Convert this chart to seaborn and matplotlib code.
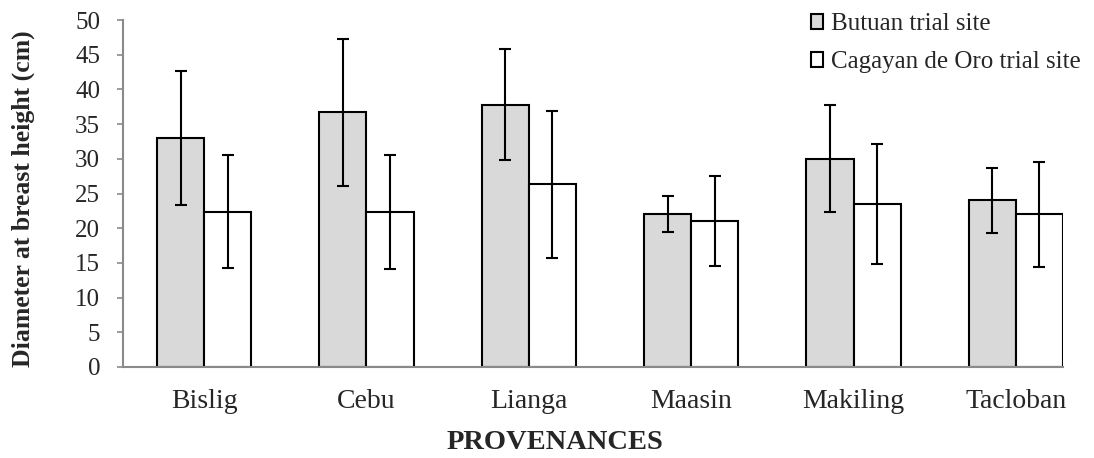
import numpy as np
import pandas as pd
import matplotlib
matplotlib.use("Agg")
import matplotlib.pyplot as plt
import seaborn as sns

provenances = ["Bislig", "Cebu", "Lianga", "Maasin", "Makiling", "Tacloban"]
sites = ["Butuan trial site", "Cagayan de Oro trial site"]
butuan_mean = [33.0, 36.7, 37.8, 22.0, 30.0, 24.0]
butuan_err = [9.6, 10.6, 8.0, 2.6, 7.7, 4.7]
cdo_mean = [22.4, 22.3, 26.3, 21.0, 23.5, 22.0]
cdo_err = [8.1, 8.2, 10.6, 6.5, 8.6, 7.6]

df = pd.DataFrame({
    "provenance": provenances * 2,
    "site": [sites[0]] * 6 + [sites[1]] * 6,
    "dbh": butuan_mean + cdo_mean,
    "err": butuan_err + cdo_err,
})

sns.set_style("white")
plt.rcParams["font.family"] = ["Liberation Serif", "DejaVu Serif"]

bar_w = 0.58
fig = plt.figure(figsize=(10.94, 4.58), dpi=100)
ax = fig.add_axes([0.1124, 0.1987, 0.8592, 0.7576])

sns.barplot(data=df, x="provenance", y="dbh", hue="site", order=provenances,
            hue_order=sites, palette=["#d9d9d9", "#ffffff"], edgecolor="black",
            linewidth=1.5, width=bar_w, errorbar=None, ax=ax, saturation=1)

# error bars on top of seaborn's bars
for cont, s in zip(ax.containers, sites):
    sub = df[df["site"] == s].set_index("provenance").loc[provenances]
    xs = [p.get_x() + p.get_width() / 2 for p in cont.patches]
    ax.errorbar(xs, sub["dbh"], yerr=sub["err"], fmt="none", ecolor="black",
                elinewidth=1.5, capsize=4, capthick=1.5)

ax.set_ylim(0, 50)
ax.set_yticks(range(0, 51, 5))
ax.set_xlim(-0.5, len(provenances) - 1 + bar_w / 2)
ax.tick_params(axis="y", labelsize=18, length=4.5, width=1.2, color="#8a8a8a",
               direction="out", left=True, pad=12)
ax.tick_params(axis="x", labelsize=20, length=0, pad=16)
for sp in ["top", "right"]:
    ax.spines[sp].set_visible(False)
for sp in ["left", "bottom"]:
    ax.spines[sp].set_color("#8a8a8a")
    ax.spines[sp].set_linewidth(1.5)

ax.set_ylabel("Diameter at breast height (cm)", fontsize=18.5, fontweight="bold")
ax.yaxis.set_label_coords(-0.094, 0.484)
ax.set_xlabel("PROVENANCES", fontsize=20.5, fontweight="bold")
ax.xaxis.set_label_coords(0.46, -0.182)

leg = ax.legend(loc="upper right", bbox_to_anchor=(1093 / 1094, 0.998),
                bbox_transform=fig.transFigure, frameon=False, fontsize=18,
                borderpad=0, handlelength=0.5, handleheight=0.5,
                handletextpad=0.3, labelspacing=0.64)

fig.savefig("out.png", dpi=100)
